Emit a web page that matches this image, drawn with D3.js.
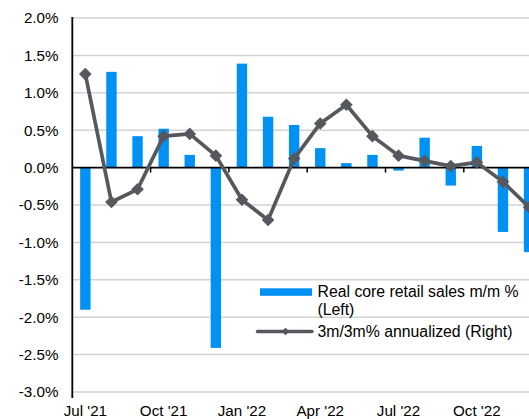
<!DOCTYPE html>
<html><head><meta charset="utf-8">
<script src="https://cdn.jsdelivr.net/npm/d3@7"></script>
<style>html,body{margin:0;padding:0;background:#fff;overflow:hidden}svg{display:block}text{font-family:"Liberation Sans",Arial,sans-serif;fill:#000}</style>
</head><body>
<script>
const months = ["Jul '21","Aug '21","Sep '21","Oct '21","Nov '21","Dec '21","Jan '22","Feb '22","Mar '22","Apr '22","May '22","Jun '22","Jul '22","Aug '22","Sep '22","Oct '22","Nov '22","Dec '22"];
const retailSales = [-1.90,1.28,0.42,0.52,0.17,-2.41,1.39,0.68,0.57,0.26,0.06,0.17,-0.04,0.40,-0.24,0.29,-0.86,-1.13];
const annualized = [1.25,-0.46,-0.29,0.42,0.45,0.16,-0.43,-0.70,0.12,0.59,0.84,0.42,0.16,0.09,0.02,0.07,-0.19,-0.53];
const yTicks = [-3.0,-2.5,-2.0,-1.5,-1.0,-0.5,0.0,0.5,1.0,1.5,2.0];
const xLabels = ["Jul '21","Oct '21","Jan '22","Apr '22","Jul '22","Oct '22"];
const seriesNames = ["Real core retail sales m/m %", "(Left)", "3m/3m% annualized (Right)"];

const W = 529, H = 419;
const svg = d3.select("body").append("svg").attr("width", W).attr("height", H);
const left = 72.3, band = 26.1;
const x = d3.scaleBand().domain(months).range([left, left + band * months.length]).paddingInner(0.6).paddingOuter(0.3);
const y = d3.scaleLinear().domain([-3, 2]).range([392, 18]);
const yR = d3.scaleLinear().domain([-3, 2]).range([392, 18]);
const right = left + band * months.length + 20;
const fmt = v => (v < 0 ? "-" : "") + Math.abs(v).toFixed(1) + "%";

// gridlines
svg.append("g").selectAll("line").data(yTicks.filter(v => v !== 0)).join("line")
  .attr("x1", left).attr("x2", right).attr("y1", d => y(d)).attr("y2", d => y(d))
  .attr("stroke", "#d3d3d3").attr("stroke-width", 1.5);

// y labels
svg.append("g").selectAll("text").data(yTicks).join("text")
  .attr("x", 58.5).attr("y", d => y(d) + 5.3).attr("text-anchor", "end")
  .attr("font-size", 15.2).text(fmt);

// bars
svg.append("g").selectAll("rect").data(retailSales).join("rect")
  .attr("x", (d, i) => x(months[i]) + (x.bandwidth() - 10.4) / 2).attr("width", 10.4)
  .attr("y", d => y(Math.max(0, d))).attr("height", d => Math.abs(y(d) - y(0)))
  .attr("fill", "#0091f5");

// zero line + ticks
svg.append("line").attr("x1", left).attr("x2", right).attr("y1", y(0)).attr("y2", y(0))
  .attr("stroke", "#000").attr("stroke-width", 1.6);
const step = x.step();
const x0 = x.range()[0];
svg.append("g").selectAll("line").data(d3.range(3, months.length, 3)).join("line")
  .attr("x1", d => x0 + d * step).attr("x2", d => x0 + d * step)
  .attr("y1", y(0)).attr("y2", y(0) + 5).attr("stroke", "#000").attr("stroke-width", 1.5);

// left axis
svg.append("line").attr("x1", left).attr("x2", left).attr("y1", y(2) - 1).attr("y2", y(-3) + 6)
  .attr("stroke", "#000").attr("stroke-width", 1.8);

// line series
const cx = i => x(months[i]) + x.bandwidth() / 2;
const line = d3.line().x((d, i) => cx(i)).y(d => yR(d));
svg.append("path").datum(annualized).attr("d", line).attr("fill", "none")
  .attr("stroke", "#55595d").attr("stroke-width", 3.7).attr("stroke-linejoin", "round");
svg.append("g").selectAll("path").data(annualized).join("path")
  .attr("transform", (d, i) => `translate(${cx(i)},${yR(d)}) rotate(45)`)
  .attr("d", d3.symbol().type(d3.symbolSquare).size(80)).attr("fill", "#55595d");

// x labels
svg.append("g").selectAll("text").data(xLabels).join("text")
  .attr("x", d => x(d) + x.bandwidth() / 2).attr("y", 415.5).attr("text-anchor", "middle")
  .attr("font-size", 15.2).text(d => d);

// legend
svg.append("rect").attr("x", 260).attr("y", 288.3).attr("width", 52).attr("height", 7.5).attr("fill", "#0091f5");
svg.append("line").attr("x1", 257.5).attr("x2", 312).attr("y1", 331.5).attr("y2", 331.5)
  .attr("stroke", "#55595d").attr("stroke-width", 3.4).attr("stroke-linecap", "round");
svg.append("path").attr("transform", "translate(285.5,331.5) rotate(45)")
  .attr("d", d3.symbol().type(d3.symbolSquare).size(30)).attr("fill", "#55595d");
svg.append("text").attr("x", 317.5).attr("y", 296.8).attr("font-size", 15.8).text(seriesNames[0]);
svg.append("text").attr("x", 317.5).attr("y", 315).attr("font-size", 15.8).text(seriesNames[1]);
svg.append("text").attr("x", 317.5).attr("y", 337).attr("font-size", 15.8).text(seriesNames[2]);
</script>
</body></html>
